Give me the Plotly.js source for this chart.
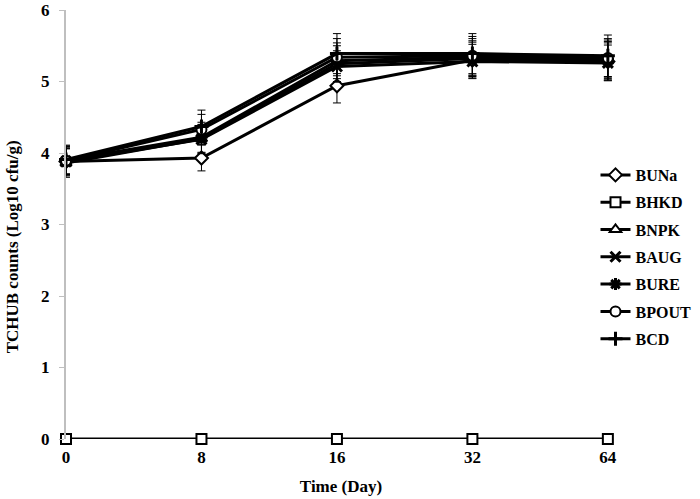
<!DOCTYPE html>
<html>
<head>
<meta charset="utf-8">
<script src="https://cdn.plot.ly/plotly-3.0.1.min.js"></script>
<style>
  html, body { margin: 0; padding: 0; background: #fff; }
  #chart { width: 700px; height: 499px; }
</style>
</head>
<body>
<div id="chart"></div>
<script>
const days = ['0', '8', '16', '32', '64'];

const BUNa = [3.88, 3.93, 4.94, 5.30, 5.28];
const BHKD = [0, 0, 0, 0, 0];
const BNPK = [3.86, 4.20, 5.25, 5.32, 5.29];
const BAUG = [3.88, 4.19, 5.21, 5.28, 5.26];
const BURE = [3.90, 4.22, 5.29, 5.34, 5.31];
const BPOUT = [3.89, 4.33, 5.34, 5.36, 5.33];
const BCD = [3.91, 4.37, 5.39, 5.39, 5.36];

const errBUNa = [0.18, 0.18, 0.24, 0.25, 0.26];
const errBHKD = [0, 0, 0, 0, 0];
const errBNPK = [0.2, 0.2, 0.25, 0.25, 0.27];
const errBAUG = [0.2, 0.2, 0.22, 0.24, 0.25];
const errBURE = [0.2, 0.21, 0.25, 0.26, 0.27];
const errBPOUT = [0.2, 0.21, 0.26, 0.27, 0.27];
const errBCD = [0.2, 0.23, 0.28, 0.28, 0.29];

const serif = 'Liberation Serif, Times New Roman, serif';

function buildTrace(name, values, errors, symbol, fill) {
    return {
        x: days,
        y: values,
        name,
        legendgroup: name,
        type: 'scatter',
        mode: 'lines+markers',
        cliponaxis: false,
        line: { color: '#000', width: 3 },
        marker: {
            symbol,
            size: 10,
            color: fill,
            line: { color: '#000', width: 2 }
        },
        error_y: {
            type: 'data',
            array: errors,
            visible: true,
            color: '#000',
            thickness: 1,
            width: 4
        }
    };
}

const data = [
    buildTrace('BUNa', BUNa, errBUNa, 'diamond', '#fff'),
    buildTrace('BHKD', BHKD, errBHKD, 'square', '#fff'),
    buildTrace('BNPK', BNPK, errBNPK, 'triangle-up', '#fff'),
    buildTrace('BAUG', BAUG, errBAUG, 'x-thin', '#000'),
    buildTrace('BURE', BURE, errBURE, 'asterisk', '#000'),
    buildTrace('BPOUT', BPOUT, errBPOUT, 'circle', '#fff'),
    buildTrace('BCD', BCD, errBCD, 'cross-thin', '#000')
];
data[3].marker.line.width = 3;
data[4].marker.line.width = 3;
data[6].marker.line.width = 3;

const titleFont = { family: serif, size: 17, weight: 'bold', color: '#000' };

const layout = {
    width: 700,
    height: 499,
    margin: { l: 66, r: 84, t: 10, b: 60, autoexpand: false },
    paper_bgcolor: '#fff',
    plot_bgcolor: '#fff',
    font: { family: serif, size: 16, color: '#000' },
    showlegend: true,
    legend: {
        xref: 'container',
        x: 0.995,
        xanchor: 'right',
        y: 0.655,
        yanchor: 'top',
        font: { family: serif, size: 16, color: '#000', weight: 'bold' },
        itemwidth: 30,
        tracegroupgap: 3.5,
        bgcolor: 'rgba(0,0,0,0)'
    },
    xaxis: {
        type: 'category',
        range: [0, 4.06],
        showgrid: false,
        zeroline: false,
        showline: false,
        ticks: '',
        ticklabelstandoff: 6,
        tickfont: { family: serif, size: 17, weight: 'bold', color: '#000' },
        title: { text: 'Time (Day)', font: titleFont, standoff: 14 }
    },
    yaxis: {
        range: [0, 6],
        dtick: 1,
        showgrid: false,
        zeroline: false,
        showline: true,
        linecolor: '#bfbfbf',
        linewidth: 2,
        ticks: 'outside',
        tickcolor: '#bfbfbf',
        ticklen: 5,
        ticklabelstandoff: 6,
        tickfont: { family: serif, size: 17, weight: 'bold', color: '#000' }
    },
    annotations: [{
        text: 'TCHUB counts (Log10 cfu/g)',
        xref: 'paper',
        yref: 'paper',
        x: -0.098,
        y: 0.447,
        xanchor: 'center',
        yanchor: 'middle',
        textangle: -90,
        showarrow: false,
        font: titleFont
    }]
};

Plotly.newPlot('chart', data, layout, { displayModeBar: false, staticPlot: true });
</script>
</body>
</html>
